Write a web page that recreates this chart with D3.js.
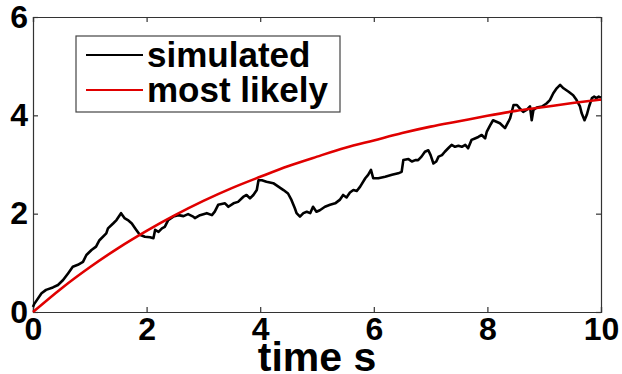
<!DOCTYPE html>
<html>
<head>
<meta charset="utf-8">
<script src="https://d3js.org/d3.v7.min.js"></script>
<style>
body { margin: 0; background: #fff; }
text { font-family: "Liberation Sans", Arial, sans-serif; font-weight: bold; fill: #000; }
</style>
</head>
<body>
<div id="chart"></div>
<script>

// simulated path (time in s)
var simTime = [0, 0.02, 0.15, 0.23, 0.35, 0.44, 0.53, 0.62, 0.70, 0.79, 0.88, 0.94, 1.03, 1.11, 1.17, 1.29, 1.32, 1.41, 1.47, 1.55, 1.61, 1.67, 1.74,
	1.80, 1.88, 1.97, 2.06, 2.12, 2.15, 2.21, 2.27, 2.32, 2.38, 2.47, 2.56, 2.65, 2.73, 2.82, 2.85, 2.94, 3.06, 3.15, 3.20, 3.26, 3.38,
	3.44, 3.53, 3.61, 3.70, 3.76, 3.82, 3.88, 3.94, 3.97, 4.03, 4.11, 4.23, 4.32, 4.41, 4.49, 4.55, 4.61, 4.64, 4.70, 4.76, 4.82, 4.88, 4.93, 4.99, 5.05,
	5.14, 5.23, 5.32, 5.40, 5.46, 5.52, 5.58, 5.64, 5.70, 5.76, 5.85, 5.90, 5.95, 5.99, 6.08, 6.20, 6.32, 6.43, 6.49, 6.52, 6.61, 6.67, 6.73,
	6.78, 6.84, 6.90, 6.96, 7.00, 7.05, 7.10, 7.14, 7.20, 7.25, 7.31, 7.37, 7.43, 7.49, 7.55, 7.61, 7.66, 7.72, 7.78, 7.84, 7.90, 7.96, 7.99, 8.05, 8.10, 8.16, 8.22, 8.31, 8.37, 8.40,
	8.46, 8.52, 8.57, 8.63, 8.69, 8.75, 8.78, 8.81, 8.87, 8.96, 9.04, 9.10, 9.16, 9.22, 9.28, 9.34, 9.43, 9.51, 9.57, 9.63, 9.66, 9.71, 9.75, 9.79, 9.84, 9.88, 9.92, 9.96, 10];
var simValue = [0.10, 0.16, 0.38, 0.45, 0.50, 0.55, 0.65, 0.79, 0.92, 0.96, 1.02, 1.16, 1.26, 1.33, 1.46, 1.60, 1.70, 1.80, 1.87, 2.01, 1.91, 1.87, 1.80,
	1.70, 1.57, 1.53, 1.52, 1.50, 1.67, 1.63, 1.70, 1.73, 1.87, 1.94, 1.97, 1.95, 1.99, 1.94, 1.91, 1.97, 2.01, 1.97, 2.04, 2.18, 2.21,
	2.14, 2.21, 2.24, 2.34, 2.38, 2.31, 2.38, 2.48, 2.68, 2.68, 2.65, 2.62, 2.55, 2.48, 2.41, 2.28, 2.11, 2.01, 1.94, 2.01, 2.04, 2.01, 2.14, 2.04, 2.07,
	2.14, 2.18, 2.21, 2.28, 2.38, 2.33, 2.43, 2.48, 2.46, 2.55, 2.72, 2.79, 2.89, 2.72, 2.72, 2.75, 2.79, 2.82, 2.85, 3.09, 3.11, 3.06, 3.09,
	3.09, 3.16, 3.26, 3.29, 3.19, 3.02, 3.06, 3.16, 3.19, 3.26, 3.33, 3.40, 3.36, 3.38, 3.36, 3.40, 3.33, 3.50, 3.53, 3.56, 3.60, 3.53, 3.67, 3.80, 3.90, 3.87, 3.84, 3.74, 3.87, 3.94,
	4.21, 4.21, 4.14, 4.07, 4.11, 4.18, 3.90, 4.11, 4.16, 4.18, 4.24, 4.31, 4.45, 4.55, 4.62, 4.55, 4.48, 4.41, 4.31, 4.18, 4.04, 3.90, 4.01, 4.18, 4.35, 4.38, 4.35, 4.38, 4.36];

// most likely curve
var likelyTime = [0, 0.5, 1, 1.5, 2, 2.5, 3, 3.5, 4, 4.5, 5, 5.5, 6, 6.5, 7, 7.5, 8, 8.5, 9, 9.5, 10];
var likelyValue = [0, 0.48, 0.91, 1.30, 1.65, 1.97, 2.26, 2.52, 2.75, 2.97, 3.16, 3.34, 3.49, 3.64, 3.77, 3.88, 3.99, 4.09, 4.17, 4.25, 4.32];

var xTicks = [0, 2, 4, 6, 8, 10];
var yTicks = [0, 2, 4, 6];
var legendNames = ["simulated", "most likely"];
var lineColors = ["#000000", "#e00000"];

var width = 622, height = 374;
var margin = {top: 17, right: 21, bottom: 62, left: 33};

var svg = d3.select("#chart").append("svg")
	.attr("width", width)
	.attr("height", height);

var xScale = d3.scaleLinear()
	.domain([0, 10])
	.range([margin.left, width - margin.right]);

var yScale = d3.scaleLinear()
	.domain([0, 6])
	.range([height - margin.bottom, margin.top]);

// matlab style box with inward ticks on all sides
var tickLen = 5;
var axisColor = "#333";
var intFormat = d3.format("d");

svg.append("g")
	.attr("class", "axis x-axis")
	.attr("transform", "translate(0," + (height - margin.bottom) + ")")
	.call(d3.axisBottom(xScale).tickValues(xTicks).tickFormat(intFormat).tickSize(-tickLen).tickPadding(5));

svg.append("g")
	.attr("class", "axis x-axis-top")
	.attr("transform", "translate(0," + margin.top + ")")
	.call(d3.axisTop(xScale).tickValues(xTicks).tickSize(-tickLen).tickFormat(""));

svg.append("g")
	.attr("class", "axis y-axis")
	.attr("transform", "translate(" + margin.left + ",0)")
	.call(d3.axisLeft(yScale).tickValues(yTicks).tickFormat(intFormat).tickSize(-tickLen).tickPadding(5));

svg.append("g")
	.attr("class", "axis y-axis-right")
	.attr("transform", "translate(" + (width - margin.right) + ",0)")
	.call(d3.axisRight(yScale).tickValues(yTicks).tickSize(-tickLen).tickFormat(""));

svg.selectAll(".axis path, .axis line")
	.attr("stroke", axisColor)
	.attr("stroke-width", 1.2);

svg.selectAll(".axis text")
	.style("font-size", "32px")
	.style("font-family", "Liberation Sans, Arial, sans-serif")
	.style("font-weight", "bold")
	.attr("fill", "#000");

// lines
var line = d3.line()
	.x(function(d){ return xScale(d[0]); })
	.y(function(d){ return yScale(d[1]); });

var simData = simTime.map(function(t, i){ return [t, simValue[i]]; });
var likelyData = likelyTime.map(function(t, i){ return [t, likelyValue[i]]; });

svg.append("path")
	.datum(simData)
	.attr("d", line)
	.attr("fill", "none")
	.attr("stroke", lineColors[0])
	.attr("stroke-width", 2.6)
	.attr("stroke-linejoin", "round");

svg.append("path")
	.datum(likelyData)
	.attr("d", line.curve(d3.curveMonotoneX))
	.attr("fill", "none")
	.attr("stroke", lineColors[1])
	.attr("stroke-width", 2.6);

// legend
var legend = svg.append("g").attr("class", "legend");

legend.append("rect")
	.attr("x", 76)
	.attr("y", 36)
	.attr("width", 264)
	.attr("height", 76)
	.attr("fill", "#fff")
	.attr("stroke", "#444")
	.attr("stroke-width", 1.2);

legendNames.forEach(function(name, i){
	var ly = 55 + i * 35;
	legend.append("line")
		.attr("x1", 86)
		.attr("x2", 143)
		.attr("y1", ly)
		.attr("y2", ly)
		.attr("stroke", lineColors[i])
		.attr("stroke-width", 2);
	legend.append("text")
		.attr("x", 147)
		.attr("y", ly + 12)
		.style("font-size", "35px")
		.text(name);
});

// x label
svg.append("text")
	.attr("x", (margin.left + width - margin.right) / 2)
	.attr("y", 371)
	.attr("text-anchor", "middle")
	.style("font-size", "41px")
	.text("time s");

</script>
</body>
</html>
